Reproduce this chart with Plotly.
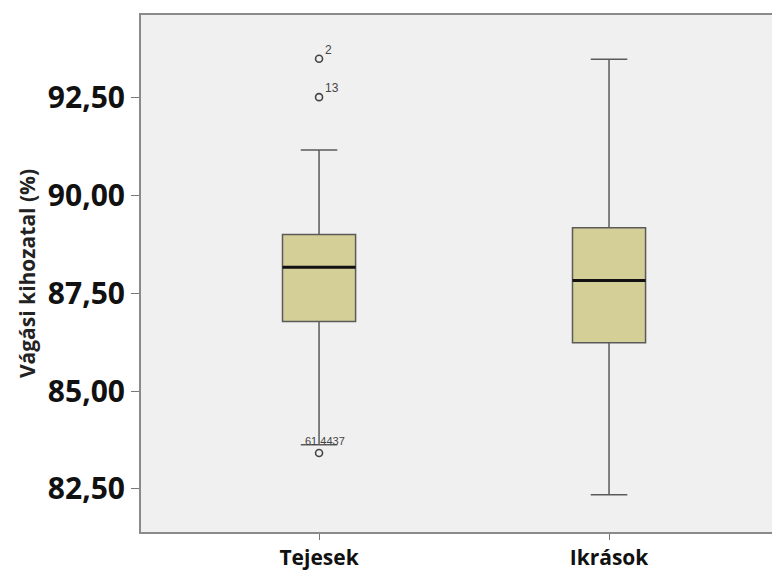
import plotly.graph_objects as go

# Group names and five-number summaries (Vágási kihozatal, %)
groups = ["Tejesek", "Ikrások"]
q1_vals = [86.78, 86.24]
median_vals = [88.17, 87.83]
q3_vals = [89.01, 89.18]
lower_fences = [83.63, 82.35]
upper_fences = [91.17, 93.49]

# Outlying cases of the Tejesek group and their case numbers
outlier_group = [1, 1, 1]
outlier_vals = [93.50, 92.52, 83.42]
outlier_ids = ["2", "13", "61 4437"]

y_ticks = [82.5, 85.0, 87.5, 90.0, 92.5]

positions = [1, 2]
box_width = 0.252

fig = go.Figure()

fig.add_trace(go.Box(
    x=positions,
    q1=q1_vals,
    median=median_vals,
    q3=q3_vals,
    lowerfence=lower_fences,
    upperfence=upper_fences,
    width=box_width,
    whiskerwidth=0.5,
    fillcolor="#d4cf97",
    line=dict(color="#5a5a5a", width=1.5),
    boxpoints=False,
    hoverinfo="skip",
    showlegend=False,
))

# Thick black median bars
for xp, med in zip(positions, median_vals):
    fig.add_trace(go.Scatter(
        x=[xp - box_width / 2, xp + box_width / 2],
        y=[med, med],
        mode="lines",
        line=dict(color="#111111", width=3),
        hoverinfo="skip",
        showlegend=False,
    ))

# Outlier circles
fig.add_trace(go.Scatter(
    x=outlier_group,
    y=outlier_vals,
    mode="markers",
    marker=dict(symbol="circle-open", size=7, color="#444444",
                line=dict(width=1.6, color="#444444")),
    hoverinfo="skip",
    showlegend=False,
))

# Case-number labels next to the outliers
for xg, yv, lab in zip(outlier_group, outlier_vals, outlier_ids):
    if yv > median_vals[0]:
        fig.add_annotation(x=xg, y=yv, text=lab, showarrow=False,
                           xanchor="left", yanchor="bottom",
                           xshift=4, yshift=0,
                           font=dict(family="Liberation Sans", size=12, color="#444444"))
    else:
        fig.add_annotation(x=xg, y=yv, text=lab, showarrow=False,
                           xanchor="center", yanchor="bottom",
                           xshift=6, yshift=4,
                           font=dict(family="Liberation Sans", size=11, color="#444444"))

fig.update_layout(
    width=772,
    height=575,
    margin=dict(l=141, r=0, t=15, b=43),
    paper_bgcolor="white",
    plot_bgcolor="#f0f0f0",
    separators=",.",
    xaxis=dict(
        range=[0.386, 2.562],
        tickvals=positions,
        ticktext=groups,
        ticks="outside",
        ticklen=6,
        tickcolor="#777777",
        tickfont=dict(family="Open Sans", size=21, color="#111111", weight="bold"),
        showgrid=False,
        zeroline=False,
        showline=True,
        linecolor="#8a8a8a",
        linewidth=2,
        mirror=True,
    ),
    yaxis=dict(
        range=[81.40, 94.62],
        tickvals=y_ticks,
        tickformat=".2f",
        ticks="outside",
        ticklen=8,
        tickcolor="#777777",
        tickfont=dict(family="Open Sans", size=30, color="#111111", weight="bold"),
        showgrid=False,
        zeroline=False,
        showline=True,
        linecolor="#8a8a8a",
        linewidth=2,
        title=dict(text="Vágási kihozatal (%)",
                   font=dict(family="Open Sans", size=21, color="#222222", weight="bold"),
                   standoff=6),
    ),
)

fig.write_html("out.html")
